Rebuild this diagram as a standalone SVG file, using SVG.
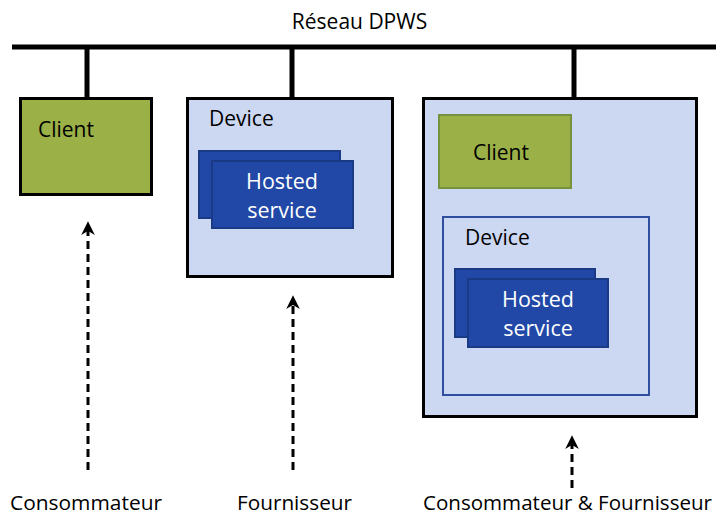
<svg xmlns="http://www.w3.org/2000/svg" width="716" height="515" viewBox="0 0 716 515">
<defs>
<style>
text{font-family:"Open Sans","Liberation Sans",sans-serif;fill:#000}
.bus{stroke:#000;stroke-width:5;fill:none}
.box{fill:#CCD7F2;stroke:#000;stroke-width:3}
.client{fill:#9BB047;stroke:#000;stroke-width:3}
.client2{fill:#9BB047;stroke:#76923C;stroke-width:2}
.dev2{fill:#CCD7F2;stroke:#2F4F9E;stroke-width:2}
.hs{fill:#2148A6;stroke:#1A3A86;stroke-width:2}
.hst{fill:#fff;font-size:21.5px;text-anchor:middle}
.t{font-size:21px}
.lbl{font-size:20px}
.arr{stroke:#000;stroke-width:3;stroke-dasharray:8 5;fill:none}
.head{fill:#000;stroke:#000;stroke-width:1.5;stroke-linejoin:miter}
</style>
</defs>
<g id="network">
<line class="bus" x1="12" y1="47" x2="716" y2="47"/>
<line class="bus" x1="87" y1="47" x2="87" y2="98"/>
<line class="bus" x1="292" y1="47" x2="292" y2="98"/>
<line class="bus" x1="574" y1="47" x2="574" y2="98"/>
<text class="t" x="359.5" y="29" text-anchor="middle">Réseau DPWS</text>
</g>
<g id="client1">
<rect class="client" x="20.5" y="98.5" width="131" height="96"/>
<text class="t" x="38" y="137">Client</text>
</g>
<g id="device1">
<rect class="box" x="187.5" y="98.5" width="205" height="178"/>
<text class="t" x="209" y="126">Device</text>
<rect class="hs" x="199" y="151" width="141" height="67"/>
<rect class="hs" x="212" y="161" width="141" height="67"/>
<text class="hst" x="282" y="189">Hosted</text>
<text class="hst" x="282" y="218">service</text>
</g>
<g id="device3">
<rect class="box" x="423.5" y="98.5" width="273" height="318"/>
</g>
<g id="client2">
<rect class="client2" x="439" y="115" width="132" height="73"/>
<text class="t" x="501" y="160" text-anchor="middle">Client</text>
</g>
<g id="device2">
<rect class="dev2" x="443" y="217" width="206" height="178"/>
<text class="t" x="465" y="245">Device</text>
<rect class="hs" x="455" y="269" width="140" height="68"/>
<rect class="hs" x="468" y="279" width="140" height="68"/>
<text class="hst" x="538" y="307">Hosted</text>
<text class="hst" x="538" y="336">service</text>
</g>
<g id="connectors">
<line class="arr" x1="88" y1="470" x2="88" y2="230"/>
<path class="head" d="M83,233 L88,223 L93,233 L88,230 Z"/>
<line class="arr" x1="293" y1="470" x2="293" y2="304"/>
<path class="head" d="M288,307 L293,297 L298,307 L293,304 Z"/>
<line class="arr" x1="572" y1="488" x2="572" y2="445"/>
<path class="head" d="M567,447 L572,437 L577,447 L572,444 Z"/>
</g>
<g id="labels">
<text class="lbl" x="10" y="510" textLength="152" lengthAdjust="spacingAndGlyphs">Consommateur</text>
<text class="lbl" x="237" y="510" textLength="115" lengthAdjust="spacingAndGlyphs">Fournisseur</text>
<text class="lbl" x="423" y="510" textLength="289" lengthAdjust="spacingAndGlyphs">Consommateur &amp; Fournisseur</text>
</g>
</svg>
